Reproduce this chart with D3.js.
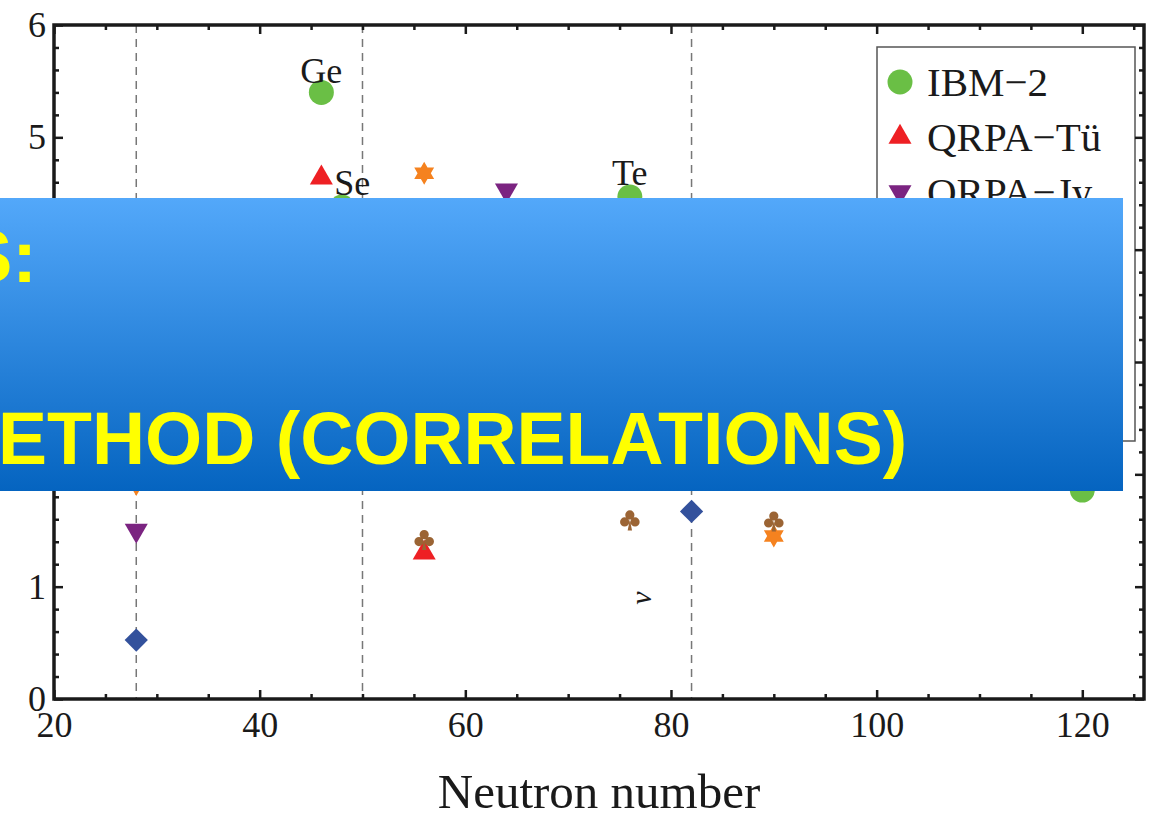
<!DOCTYPE html>
<html>
<head>
<meta charset="utf-8">
<script src="https://cdn.jsdelivr.net/npm/d3@7"></script>
<style>
  body { margin: 0; background: #fff; }
  svg { display: block; }
</style>
</head>
<body>
<div id="chart"></div>
<script>
// values (neutron number, matrix element)
const ibmN = [46, 48, 76, 120];
const ibmV = [5.40, 4.38, 4.47, 1.86];
const tueN = [46, 56];
const tueV = [4.64, 1.30];
const jyN = [64, 28];
const jyV = [4.53, 1.50];
const ismN = [28, 82];
const ismV = [0.525, 1.67];
const edfN = [56, 90, 28];
const edfV = [4.68, 1.45, 1.91];
const phfbN = [56, 76, 90];
const phfbV = [1.415, 1.59, 1.58];

const magicN = [28, 50, 82];
const xTicks = [20, 40, 60, 80, 100, 120];
const yTicks = [0, 1, 2, 3, 4, 5, 6];
// labels 2-4 sit under the banner and cannot be seen
const yLabels = ["0", "1", "", "", "", "5", "6"];
const legendNames = ["IBM\u22122", "QRPA\u2212T\u00fc", "QRPA\u2212Jy", "ISM", "EDF", "PHFB"];
const nucleusNames = ["Ge", "Se", "Te"];
const nucleusN = [46, 46, 76];
const nucleusV = [5.40, 4.64, 4.47];

const width = 1154, height = 818;
const plotL = 54, plotR = 1144, plotT = 25, plotB = 699;
const serif = '"Liberation Serif", "DejaVu Serif", serif';

const svg = d3.select('#chart').append('svg')
    .attr('width', width)
    .attr('height', height);

const x = d3.scaleLinear().domain([20, 126]).range([plotL, plotR]);
const y = d3.scaleLinear().domain([0, 6]).range([plotB, plotT]);

// dashed lines at the magic numbers
svg.append('g').selectAll('line')
    .data(magicN)
    .enter().append('line')
        .attr('x1', d => x(d)).attr('x2', d => x(d))
        .attr('y1', plotT).attr('y2', plotB)
        .attr('stroke', '#777')
        .attr('stroke-width', 1.5)
        .attr('stroke-dasharray', '8,6');

// custom marker shapes
function starPath(r) {
    const p = d3.path();
    for (let i = 0; i < 12; i++) {
        const a = -Math.PI / 2 + i * Math.PI / 6;
        const rr = i % 2 === 0 ? r : r / Math.sqrt(3);
        if (i === 0) p.moveTo(rr * Math.cos(a), rr * Math.sin(a));
        else p.lineTo(rr * Math.cos(a), rr * Math.sin(a));
    }
    p.closePath();
    return p.toString();
}
function clubPath(s) {
    const p = d3.path();
    const c = [[0, -5.5], [-5.2, 1.5], [5.2, 1.5]];
    c.forEach(([cx, cy]) => {
        p.moveTo(cx + s, cy);
        p.arc(cx, cy, s, 0, 2 * Math.PI);
    });
    p.moveTo(0, -1);
    p.lineTo(2.2, 10);
    p.lineTo(-2.2, 10);
    p.closePath();
    return p.toString();
}

const series = [
    { n: ibmN, v: ibmV, color: '#6abf45', shape: d3.symbol().type(d3.symbolCircle).size(490)(), rot: 0 },
    { n: tueN, v: tueV, color: '#ee2024', shape: d3.symbol().type(d3.symbolTriangle).size(230)(), rot: 0 },
    { n: jyN, v: jyV, color: '#7b2481', shape: d3.symbol().type(d3.symbolTriangle).size(230)(), rot: 180 },
    { n: ismN, v: ismV, color: '#33519c', shape: d3.symbol().type(d3.symbolSquare).size(270)(), rot: 45 },
    { n: edfN, v: edfV, color: '#f5821f', shape: starPath(11.5), rot: 0 },
    { n: phfbN, v: phfbV, color: '#9b6434', shape: clubPath(4.6), rot: 0 }
];

series.forEach(s => {
    svg.append('g').selectAll('path')
        .data(s.n.map((n, i) => [n, s.v[i]]))
        .enter().append('path')
            .attr('d', s.shape)
            .attr('transform', d => `translate(${x(d[0])},${y(d[1])}) rotate(${s.rot})`)
            .attr('fill', s.color);
});

// nucleus labels
svg.append('g').selectAll('text')
    .data(nucleusNames)
    .enter().append('text')
        .attr('x', (d, i) => x(nucleusN[i]) + (d === 'Se' ? 13 : 0))
        .attr('y', (d, i) => y(nucleusV[i]) + (d === 'Se' ? 17 : (d === 'Ge' ? -9 : -12)))
        .attr('text-anchor', d => d === 'Se' ? 'start' : 'middle')
        .style('font-family', serif)
        .style('font-size', '36px')
        .attr('fill', '#1a1a1a')
        .text(d => d);

// legend
const legend = svg.append('g');
legend.append('rect')
    .attr('x', 877).attr('y', 47)
    .attr('width', 258).attr('height', 394)
    .attr('fill', '#fff')
    .attr('stroke', '#555')
    .attr('stroke-width', 1.5);
legendNames.forEach((name, i) => {
    const ly = 82 + i * 55;
    legend.append('path')
        .attr('d', series[i].shape)
        .attr('transform', `translate(900,${ly}) rotate(${series[i].rot})`)
        .attr('fill', series[i].color);
    legend.append('text')
        .attr('x', 927).attr('y', ly + 14)
        .style('font-family', serif)
        .style('font-size', '41px')
        .attr('fill', '#1a1a1a')
        .text(name);
});

// frame and ticks on all sides, pointing inward
const minorX = d3.range(20, 127, 5).filter(d => !xTicks.includes(d));
const minorY = d3.range(0, 6.01, 0.2).map(d => +d.toFixed(1)).filter(d => !yTicks.includes(d));

function styleAxis(g) {
    g.select('.domain').remove();
    g.selectAll('line').attr('stroke', '#1a1a1a').attr('stroke-width', 2.5);
    g.selectAll('text')
        .style('font-family', serif)
        .style('font-size', '36px')
        .attr('fill', '#1a1a1a');
}

svg.append('g').attr('transform', `translate(0,${plotB})`)
    .call(d3.axisBottom(x).tickValues(xTicks).tickSize(-9).tickPadding(12))
    .call(styleAxis);
svg.append('g').attr('transform', `translate(0,${plotB})`)
    .call(d3.axisBottom(x).tickValues(minorX).tickSize(-5).tickFormat(''))
    .call(styleAxis);
svg.append('g').attr('transform', `translate(0,${plotT})`)
    .call(d3.axisTop(x).tickValues(xTicks).tickSize(-9).tickFormat(''))
    .call(styleAxis);
svg.append('g').attr('transform', `translate(0,${plotT})`)
    .call(d3.axisTop(x).tickValues(minorX).tickSize(-5).tickFormat(''))
    .call(styleAxis);

svg.append('g').attr('transform', `translate(${plotL},0)`)
    .call(d3.axisLeft(y).tickValues(yTicks).tickSize(-9).tickPadding(8)
        .tickFormat((d, i) => yLabels[i]))
    .call(styleAxis);
svg.append('g').attr('transform', `translate(${plotL},0)`)
    .call(d3.axisLeft(y).tickValues(minorY).tickSize(-5).tickFormat(''))
    .call(styleAxis);
svg.append('g').attr('transform', `translate(${plotR},0)`)
    .call(d3.axisRight(y).tickValues(yTicks).tickSize(-9).tickFormat(''))
    .call(styleAxis);
svg.append('g').attr('transform', `translate(${plotR},0)`)
    .call(d3.axisRight(y).tickValues(minorY).tickSize(-5).tickFormat(''))
    .call(styleAxis);

svg.append('rect')
    .attr('x', plotL).attr('y', plotT)
    .attr('width', plotR - plotL).attr('height', plotB - plotT)
    .attr('fill', 'none')
    .attr('stroke', '#1a1a1a')
    .attr('stroke-width', 3.5);

svg.append('text')
    .attr('x', (plotL + plotR) / 2).attr('y', 808)
    .attr('text-anchor', 'middle')
    .style('font-family', serif)
    .style('font-size', '49px')
    .attr('fill', '#1a1a1a')
    .text('Neutron number');

// stray rotated glyph left over from the axis label
svg.append('text')
    .attr('transform', 'translate(651,598) rotate(-90)')
    .attr('text-anchor', 'middle')
    .style('font-family', serif)
    .style('font-size', '30px')
    .style('font-style', 'italic')
    .attr('fill', '#1a1a1a')
    .text('\u03bd');

// slide banner laid over the chart
const grad = svg.append('defs').append('linearGradient')
    .attr('id', 'banner')
    .attr('x1', 0).attr('y1', 0).attr('x2', 0).attr('y2', 1);
grad.append('stop').attr('offset', '0%').attr('stop-color', '#53a8fa');
grad.append('stop').attr('offset', '100%').attr('stop-color', '#0564c0');

svg.append('rect')
    .attr('x', 0).attr('y', 198)
    .attr('width', 1123).attr('height', 293)
    .attr('fill', 'url(#banner)');

const sans = '"Liberation Sans", Arial, sans-serif';
svg.append('text')
    .attr('x', 37).attr('y', 282)
    .attr('text-anchor', 'end')
    .style('font-family', sans)
    .style('font-weight', 'bold')
    .style('font-size', '74px')
    .attr('fill', '#ffff00')
    .text('S:');
svg.append('text')
    .attr('x', -2).attr('y', 464)
    .style('font-family', sans)
    .style('font-weight', 'bold')
    .style('font-size', '73.5px')
    .attr('fill', '#ffff00')
    .text('ETHOD (CORRELATIONS)');
</script>
</body>
</html>
